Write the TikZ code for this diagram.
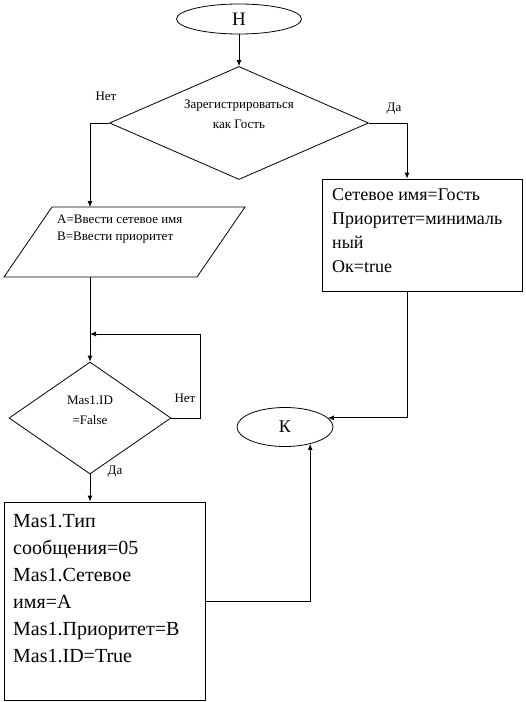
\documentclass[tikz,border=0pt]{standalone}
\usepackage{fontspec}
\setmainfont{Liberation Serif}
\usetikzlibrary{shapes.geometric,arrows.meta}
\begin{document}
\begin{tikzpicture}[x=1pt,y=-1pt,
  ln/.style={line width=0.8pt},
  ar/.style={ln,-{Latex[length=6pt,width=5pt]}},
  shp/.style={draw,ln,inner sep=0pt},
  term/.style={shp,ellipse,font=\fontsize{19}{19}\selectfont},
  dec/.style={shp,diamond},
  procbox/.style={shp,rectangle},
  small/.style={inner sep=0pt,font=\fontsize{13}{20}\selectfont},
  big/.style={inner sep=0pt,align=left,anchor=west},
]
\useasboundingbox (0,0) rectangle (526,702);
\fill[white] (0,0) rectangle (526,702);

% shapes
\node[term,minimum width=125pt,minimum height=30pt] (start) at (239,19) {Н};
\node[dec,minimum width=259pt,minimum height=113pt] (d1) at (239,123) {};
\node[small,align=center] (d1t) at (239,114) {Зарегистрироваться\\как Гость};

% parallelogram (input)
\coordinate (pTL) at (52,207);
\coordinate (pTR) at (245,207);
\coordinate (pBR) at (197,277);
\coordinate (pBL) at (4,277);
\draw[ln] (pTL) -- (pTR) -- (pBR) -- (pBL) -- cycle;
\node[small,align=left,anchor=west,font=\fontsize{13}{17}\selectfont] (part) at (57,229) {A=Ввести сетевое имя\\B=Ввести приоритет};

\node[dec,minimum width=162pt,minimum height=112pt] (d2) at (90,418) {};
\node[small,align=center] (d2t) at (90,410) {Mas1.ID\\=False};

\node[procbox,minimum width=200pt,minimum height=112pt] (r1) at (422,235) {};
\node[big,font=\fontsize{18}{24}\selectfont] (r1t) at (332,231) {Сетевое имя=Гость\\Приоритет=минималь\\ный\\Ок=true};

\node[procbox,minimum width=201pt,minimum height=198pt] (r2) at (104.5,601) {};
\node[big,font=\fontsize{20}{27}\selectfont] (r2t) at (13,589) {Mas1.Тип\\сообщения=05\\Mas1.Сетевое\\имя=A\\Mas1.Приоритет=B\\Mas1.ID=True};

\node[term,minimum width=96pt,minimum height=39pt,font=\fontsize{18}{18}\selectfont] (k) at (285,427) {К};

% labels
\node[small] (l1) at (106,96) {Нет};
\node[small] (l2) at (394,109) {Да};
\node[small] (l3) at (185,398) {Нет};
\node[small] (l4) at (115,472) {Да};

% helper coordinates
\coordinate (pin) at (90,207);
\coordinate (pout) at (90,277);
\coordinate (loopin) at (90,334);
\coordinate (rx) at (407,0);

% connectors
\draw[ar] (start.south) -- (d1.north);
\draw[ar] (d1.west) -| (pin);
\draw[ar] (d1.east) -| (rx |- r1.north);
\draw[ar] (pout) -- (d2.north);
\draw[ar] (d2.east) -- ++(29,0) |- (loopin);
\draw[ar] (d2.south) -- (d2.south |- r2.north);
\draw[ar] (rx |- r1.south) |- (k.12);
\draw[ar] (r2.east) -| (k.-34);
\end{tikzpicture}
\end{document}
